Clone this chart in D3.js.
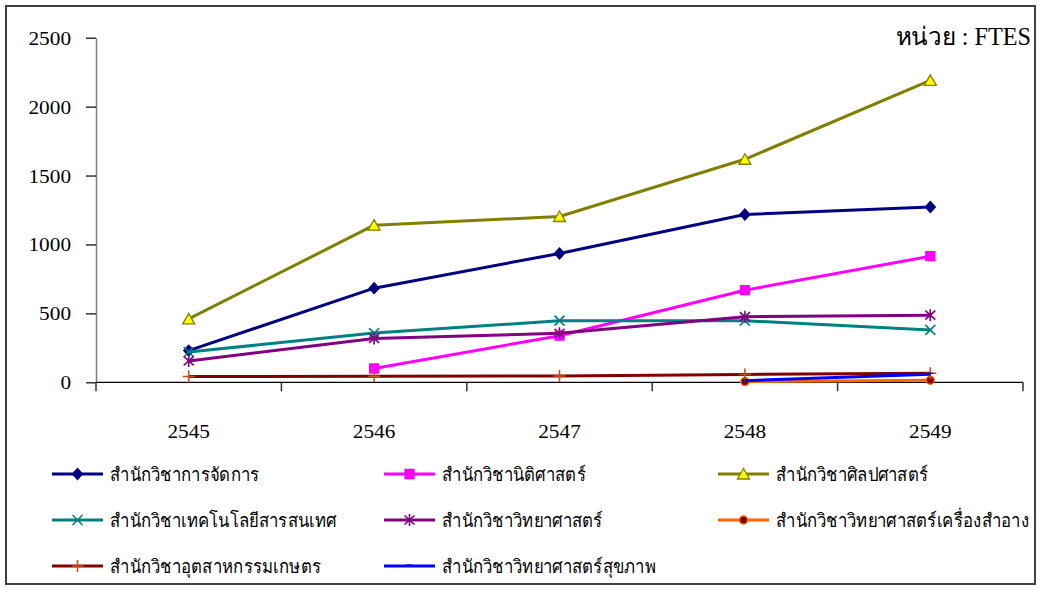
<!DOCTYPE html>
<html>
<head>
<meta charset="utf-8">
<script src="https://cdn.jsdelivr.net/npm/d3@7"></script>
<style>
html,body{margin:0;padding:0;background:#fff;}
svg{display:block;}
</style>
</head>
<body>
<svg id="chart" width="1040" height="589"></svg>
<script>
const categories = ["2545","2546","2547","2548","2549"];
const yTicks = [0,500,1000,1500,2000,2500];
const seriesNames = [
  "สำนักวิชาการจัดการ",
  "สำนักวิชานิติศาสตร์",
  "สำนักวิชาศิลปศาสตร์",
  "สำนักวิชาเทคโนโลยีสารสนเทศ",
  "สำนักวิชาวิทยาศาสตร์",
  "สำนักวิชาวิทยาศาสตร์เครื่องสำอาง",
  "สำนักวิชาอุตสาหกรรมเกษตร",
  "สำนักวิชาวิทยาศาสตร์สุขภาพ"
];
const management   = [230, 683, 935, 1218, 1272];
const law          = [null, 100, 338, 668, 915];
const liberalArts  = [460, 1140, 1203, 1618, 2190];
const infoTech     = [220, 357, 447, 447, 380];
const science      = [155, 318, 356, 476, 487];
const cosmetic     = [null, null, null, 5, 15];
const agroIndustry = [42, 44, 46, 57, 66];
const healthSci    = [null, null, null, 12, 58];
const unitLabel = "หน่วย : FTES";

const seriesValues = [management, law, liberalArts, infoTech, science, cosmetic, agroIndustry, healthSci];
const styles = [
  {color:"#000080", marker:"diamond", fill:"#000080", mstroke:"#000080"},
  {color:"#FF00FF", marker:"square", fill:"#FF00FF", mstroke:"#FF00FF"},
  {color:"#808000", marker:"triangle", fill:"#FFFF00", mstroke:"#808000"},
  {color:"#008080", marker:"x", fill:"none", mstroke:"#008080"},
  {color:"#800080", marker:"asterisk", fill:"none", mstroke:"#800080"},
  {color:"#FF6600", marker:"circle", fill:"#800000", mstroke:"#FF6600"},
  {color:"#800000", marker:"plus", fill:"none", mstroke:"#C8501E"},
  {color:"#0000FF", marker:"dash", fill:"none", mstroke:"#0000FF"}
];

const svg = d3.select("#chart");
const serif = "'Liberation Serif','Times New Roman',serif";

// outer border
svg.append("rect").attr("x",6).attr("y",6).attr("width",1029).attr("height",578)
  .attr("fill","#fff").attr("stroke","#404040").attr("stroke-width",2);

const x = d3.scaleBand().domain(categories).range([96,1023]).paddingInner(0).paddingOuter(0);
const y = d3.scaleLinear().domain([0,2500]).range([382.3,37.7]);

// Y axis
const yAxis = svg.append("g").attr("transform","translate(96,0)")
  .call(d3.axisLeft(y).tickValues(yTicks).tickFormat(d3.format("d")).tickSize(10).tickSizeOuter(0).tickPadding(15));
yAxis.select(".domain").attr("stroke","#808080").attr("stroke-width",1.5);
yAxis.selectAll(".tick line").attr("stroke","#000").attr("stroke-width",1.2);
yAxis.selectAll(".tick text").attr("font-family",serif).attr("font-size",19).attr("fill","#000")
  .attr("transform","scale(1.12,1)").attr("dy","0.34em");
yAxis.selectAll(".tick text").attr("x", -25/1.12);

// X axis
const xg = svg.append("g");
xg.append("line").attr("x1",x.range()[0]).attr("x2",x.range()[1])
  .attr("y1",y(0)).attr("y2",y(0)).attr("stroke","#000").attr("stroke-width",1.2);
const bounds = categories.map(c => x(c)).concat([x(categories[categories.length-1]) + x.bandwidth()]);
xg.selectAll("line.xt").data(bounds).join("line").attr("class","xt")
  .attr("x1",d=>d).attr("x2",d=>d).attr("y1",y(0)).attr("y2",y(0)+9)
  .attr("stroke","#333").attr("stroke-width",1.5);
xg.selectAll("text.xl").data(categories).join("text").attr("class","xl")
  .attr("transform",d=>`translate(${x(d)+x.bandwidth()/2},438) scale(1.12,1)`)
  .attr("text-anchor","middle").attr("font-family",serif).attr("font-size",19).attr("fill","#000")
  .text(d=>d);

// marker path generator
function markerPath(type){
  switch(type){
    case "diamond": return "M0,-5.5L5,0L0,5.5L-5,0Z";
    case "square": return "M-4.5,-4.5H4.5V4.5H-4.5Z";
    case "triangle": return "M0,-5.5L6,5L-6,5Z";
    case "x": return "M-5,-5L5,5M-5,5L5,-5";
    case "asterisk": return "M-5,-4.5L5,4.5M-5,4.5L5,-4.5M0,-6V6";
    case "circle": return "M4,0A4,4,0,1,1,-4,0A4,4,0,1,1,4,0Z";
    case "plus": return "M-6,0H6M0,-6V6";
    case "dash": return "M-3,-1H3";
  }
}

const cx = c => x(c) + x.bandwidth()/2;
const line = d3.line().defined(d => d.v !== null).x(d => cx(d.c)).y(d => y(d.v));

const plot = svg.append("g");
seriesValues.forEach((vals, i) => {
  const st = styles[i];
  const data = categories.map((c,j)=>({c, v: vals[j]}));
  const g = plot.append("g");
  g.append("path").datum(data).attr("d", line).attr("fill","none")
    .attr("stroke", st.color).attr("stroke-width", 3).attr("stroke-linejoin","round");
  g.selectAll("path.m").data(data.filter(d=>d.v!==null)).join("path").attr("class","m")
    .attr("transform", d=>`translate(${cx(d.c)},${y(d.v)})`)
    .attr("d", markerPath(st.marker))
    .attr("fill", st.fill).attr("stroke", st.mstroke)
    .attr("stroke-width", (st.marker==="x"||st.marker==="asterisk"||st.marker==="plus")?1.6:1.3);
});

// unit label
svg.append("text").attr("transform","translate(1031,45) scale(0.97,1)").attr("text-anchor","end")
  .attr("font-family",serif).attr("font-size",25).attr("fill","#000").text(unitLabel);

// legend
const legCols = [52, 384, 718];
const legRows = [474, 520, 566];
const legend = svg.append("g");
seriesNames.forEach((name, i) => {
  const st = styles[i];
  const lx = legCols[i % 3], ly = legRows[Math.floor(i / 3)];
  const g = legend.append("g").attr("transform", `translate(${lx},${ly})`);
  g.append("line").attr("x1",0).attr("x2",51).attr("y1",0).attr("y2",0)
    .attr("stroke", st.color).attr("stroke-width",3);
  g.append("path").attr("transform","translate(25.5,0)").attr("d", markerPath(st.marker))
    .attr("fill", st.fill).attr("stroke", st.mstroke)
    .attr("stroke-width", (st.marker==="x"||st.marker==="asterisk"||st.marker==="plus")?1.6:1.3);
  g.append("text").attr("transform","translate(58,7) scale(0.88,1)").attr("font-family",serif).attr("font-size",19)
    .attr("fill","#000").text(name);
});
</script>
</body>
</html>
